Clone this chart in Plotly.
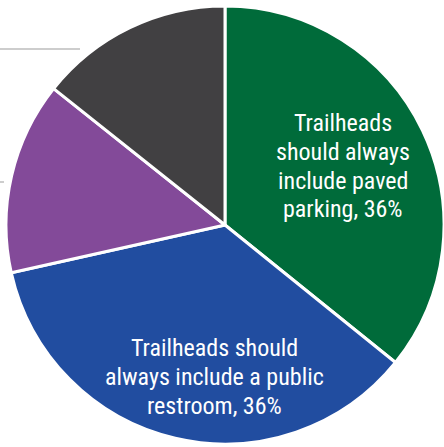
import plotly.graph_objects as go

labels = [
    "Trailheads should always include paved parking",
    "Trailheads should always include a public restroom",
    "Other 1",
    "Other 2",
]
values = [35.8, 35.7, 14.2, 14.3]
colors = ["#006B3A", "#214DA0", "#834A99", "#414042"]

label_green = ["Trailheads", "should always", "include paved", "parking, 36%"]
label_blue = ["Trailheads should", "always include a public", "restroom, 36%"]

W, H = 444, 447

fig = go.Figure()
fig.add_trace(go.Pie(
    labels=labels,
    values=values,
    marker=dict(colors=colors, line=dict(color="white", width=3)),
    sort=False,
    direction="clockwise",
    rotation=0,
    textinfo="none",
    hoverinfo="label+percent",
    showlegend=False,
    domain=dict(x=[6 / W, 1], y=[2 / H, 1 - 5 / H]),
))

font = dict(family="Roboto Condensed, Liberation Sans Narrow, Roboto", size=24,
            color="white")
line_gap = 28.8


def add_label(lines, cx, first_y):
    for i, txt in enumerate(lines):
        y = first_y + i * line_gap
        fig.add_annotation(x=cx / W, y=1 - y / H, xref="paper", yref="paper",
                           text=txt, showarrow=False, font=font,
                           xanchor="center", yanchor="middle")


add_label(label_green, 343, 123)
add_label(label_blue, 214, 348)

# leader lines of the labels that sit outside the cropped view
fig.add_shape(type="line", xref="paper", yref="paper",
              x0=0, x1=80 / W, y0=1 - 49 / H, y1=1 - 49 / H,
              line=dict(color="#bdbdbd", width=1.5))
fig.add_shape(type="line", xref="paper", yref="paper",
              x0=0, x1=4 / W, y0=1 - 182 / H, y1=1 - 182 / H,
              line=dict(color="#bdbdbd", width=1.5))

fig.update_layout(
    width=W, height=H,
    margin=dict(l=0, r=0, t=0, b=0),
    paper_bgcolor="white",
    plot_bgcolor="white",
)

fig.write_html("out.html", config={"displayModeBar": False},
               post_script="document.body.style.margin='0';")
